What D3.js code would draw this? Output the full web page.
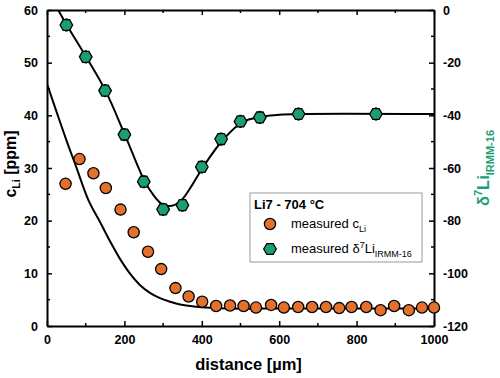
<!DOCTYPE html>
<html>
<head>
<meta charset="utf-8">
<script src="https://cdn.jsdelivr.net/npm/d3@7"></script>
<style>
  body { margin: 0; background: #fff; }
  svg { font-family: "Liberation Sans", Arial, sans-serif; font-weight: bold; }
  .axis text { font-size: 12.5px; font-weight: bold; }
  .axis path, .axis line { stroke: #000; }
</style>
</head>
<body>
<script>
// measured Li concentration [ppm]
var cDist = [48, 84, 120, 152, 190, 224, 261, 295, 332, 366, 401, 437, 473, 508, 540, 579, 612, 649, 685, 721, 755, 787, 825, 862, 897, 935, 969, 1000];
var cVal  = [27.0, 31.7, 29.0, 26.2, 22.1, 17.8, 14.1, 10.8, 7.2, 5.6, 4.6, 3.8, 3.9, 3.8, 3.5, 4.0, 3.5, 3.6, 3.6, 3.6, 3.4, 3.6, 3.6, 3.0, 3.8, 3.0, 3.5, 3.5];

// measured delta7Li [permil]
var dDist = [50, 100, 150, 200, 250, 300, 350, 400, 450, 500, 550, 650, 850];
var dVal  = [-5.7, -17.8, -30.6, -47.3, -65.2, -75.7, -74.1, -59.6, -49.0, -42.3, -40.8, -39.5, -39.5];
var dErr  = [2.5, 2.5, 2.5, 2.5, 2.5, 2.5, 2.5, 2.5, 2.5, 2.5, 2.5, 2.5, 2.5];

// model curves
var cModelX = [0, 25, 50, 75, 107, 138, 165, 189, 215, 240, 266, 292, 318, 344, 380, 421, 480, 560, 700, 1000];
var cModelY = [46, 40.6, 35.3, 30.3, 23.9, 19.6, 15.8, 12.7, 9.9, 7.8, 6.3, 5.3, 4.6, 4.1, 3.7, 3.45, 3.3, 3.3, 3.3, 3.3];
var dModelX = [29, 51, 101, 151, 201, 251, 275, 295, 313, 330, 348, 375, 404, 456, 507, 559, 600, 650, 1000];
var dModelY = [0, -5.7, -17.8, -30.6, -47.3, -64.6, -70.3, -73.5, -74.4, -74.0, -72.2, -66.5, -59.5, -49.1, -42.4, -40.5, -39.8, -39.5, -39.5];

var xTicks = [0, 200, 400, 600, 800, 1000];
var yLTicks = [0, 10, 20, 30, 40, 50, 60];
var yRTicks = [-120, -100, -80, -60, -40, -20, 0];

var green = "#1b9e77", orange = "#e3702c";

var margin = {top: 10, right: 66, bottom: 52, left: 47},
    width = 500 - margin.left - margin.right,
    height = 378 - margin.top - margin.bottom;

var x = d3.scaleLinear().domain([0, 1000]).range([0, width]);
var yL = d3.scaleLinear().domain([0, 60]).range([height, 0]);
var yR = d3.scaleLinear().domain([-120, 0]).range([height, 0]);

var fmt = function(d) { return String(d); };

var svg = d3.select("body").append("svg")
    .attr("width", 500)
    .attr("height", 378)
  .append("g")
    .attr("transform", "translate(" + margin.left + "," + margin.top + ")");

var defs = svg.append("defs");
defs.append("clipPath").attr("id", "clip")
  .append("rect").attr("width", width).attr("height", height);

// minor ticks
function minor(axisG, scale, vals, len, horiz, color) {
  axisG.selectAll(".minor").data(vals).enter().append("line")
    .attr("class", "minor")
    .attr("stroke", color || "#000")
    .attr("stroke-width", 1.5)
    .attr(horiz ? "x1" : "y1", function(d) { return scale(d); })
    .attr(horiz ? "x2" : "y2", function(d) { return scale(d); })
    .attr(horiz ? "y1" : "x1", 0)
    .attr(horiz ? "y2" : "x2", len);
}

// Bottom axis
var gx = svg.append("g").attr("class", "axis")
    .attr("transform", "translate(0," + height + ")")
    .call(d3.axisBottom(x).tickValues(xTicks).tickFormat(fmt).tickSizeInner(-5).tickSizeOuter(0).tickPadding(9));
gx.selectAll("line").attr("stroke-width", 1.5);
minor(gx, x, [100, 300, 500, 700, 900], -3, true);

// Top axis
var gt = svg.append("g").attr("class", "axis")
    .call(d3.axisTop(x).tickValues(xTicks).tickSizeInner(-5).tickSizeOuter(0).tickFormat(""));
gt.selectAll("line").attr("stroke-width", 1.5);
minor(gt, x, [100, 300, 500, 700, 900], 3, true);

// Left axis
var gl = svg.append("g").attr("class", "axis")
    .call(d3.axisLeft(yL).tickValues(yLTicks).tickFormat(fmt).tickSizeInner(-5).tickSizeOuter(0).tickPadding(9));
gl.selectAll("line").attr("stroke-width", 1.5);
minor(gl, yL, [5, 15, 25, 35, 45, 55], 3, false);

// Right axis
var gr = svg.append("g").attr("class", "axis")
    .attr("transform", "translate(" + width + ",0)")
    .call(d3.axisRight(yR).tickValues(yRTicks).tickFormat(fmt).tickSizeInner(-5).tickSizeOuter(0).tickPadding(9));
gr.selectAll("line").attr("stroke", green).attr("stroke-width", 1.5);
gr.select(".domain").attr("stroke", green).attr("stroke-width", 2);
minor(gr, yR, [-110, -90, -70, -50, -30, -10], -3, false, green);

gx.select(".domain").attr("stroke-width", 2);
gt.select(".domain").attr("stroke-width", 2);
gl.select(".domain").attr("stroke-width", 2);

var plot = svg.append("g").attr("clip-path", "url(#clip)");

// model curves
plot.append("path")
    .datum(d3.zip(cModelX, cModelY))
    .attr("fill", "none").attr("stroke", "#000").attr("stroke-width", 2)
    .attr("d", d3.line().curve(d3.curveCatmullRom)
        .x(function(d) { return x(d[0]); })
        .y(function(d) { return yL(d[1]); }));

plot.append("path")
    .datum(d3.zip(dModelX, dModelY))
    .attr("fill", "none").attr("stroke", "#000").attr("stroke-width", 2)
    .attr("d", d3.line().curve(d3.curveCatmullRom)
        .x(function(d) { return x(d[0]); })
        .y(function(d) { return yR(d[1]); }));

// delta points with error bars
var dPts = d3.zip(dDist, dVal, dErr);
svg.selectAll(".err").data(dPts).enter().append("line")
    .attr("stroke", "#000").attr("stroke-width", 2.5)
    .attr("x1", function(d) { return x(d[0]); })
    .attr("x2", function(d) { return x(d[0]); })
    .attr("y1", function(d) { return yR(d[1] - d[2]); })
    .attr("y2", function(d) { return yR(d[1] + d[2]); });

var hex = d3.range(6).map(function(i) {
  var a = Math.PI / 3 * i;
  return [6.3 * Math.cos(a), 6.3 * Math.sin(a)];
});
var hexPath = "M" + hex.join("L") + "Z";

svg.selectAll(".dpt").data(dPts).enter().append("path")
    .attr("d", hexPath)
    .attr("transform", function(d) { return "translate(" + x(d[0]) + "," + yR(d[1]) + ")"; })
    .attr("fill", green).attr("stroke", "#000").attr("stroke-width", 1.3);

// concentration points
svg.selectAll(".cpt").data(d3.zip(cDist, cVal)).enter().append("circle")
    .attr("cx", function(d) { return x(d[0]); })
    .attr("cy", function(d) { return yL(d[1]); })
    .attr("r", 5.6)
    .attr("fill", orange).attr("stroke", "#000").attr("stroke-width", 1.3);

// axis titles
svg.append("text")
    .attr("x", width / 2 + 8).attr("y", height + 44)
    .attr("text-anchor", "middle")
    .style("font-size", "16.5px")
    .text("distance [\u00b5m]");

var lt = svg.append("text")
    .attr("transform", "translate(" + (-31) + "," + (height / 2 - 4) + ") rotate(-90)")
    .attr("text-anchor", "middle")
    .style("font-size", "16px");
lt.append("tspan").text("c");
lt.append("tspan").attr("dy", 4).style("font-size", "10.5px").text("Li");
lt.append("tspan").attr("dy", -4).text(" [ppm]");

var rt = svg.append("text")
    .attr("transform", "translate(" + (width + 55) + "," + (height / 2) + ") rotate(-90)")
    .attr("text-anchor", "middle")
    .attr("fill", green)
    .style("font-size", "16.5px");
rt.append("tspan").text("\u03b4");
rt.append("tspan").attr("dy", -7).style("font-size", "11px").text("7");
rt.append("tspan").attr("dy", 7).text("Li");
rt.append("tspan").attr("dy", 5).style("font-size", "11px").text("IRMM-16");

// legend
var lg = svg.append("g").attr("transform", "translate(" + (250 - margin.left) + "," + (193 - margin.top) + ")");
lg.append("rect")
    .attr("width", 172).attr("height", 69)
    .attr("fill", "#fff").attr("stroke", "#999").attr("stroke-width", 1);
lg.append("text").attr("x", 4).attr("y", 16)
    .style("font-size", "13px").text("Li7 - 704 \u00b0C");
lg.append("circle").attr("cx", 20).attr("cy", 31).attr("r", 5.6)
    .attr("fill", orange).attr("stroke", "#000").attr("stroke-width", 1.3);
var l1 = lg.append("text").attr("x", 41).attr("y", 35)
    .style("font-size", "13px").style("font-weight", "normal");
l1.append("tspan").text("measured c");
l1.append("tspan").attr("dy", 4).style("font-size", "9px").text("Li");
lg.append("path").attr("d", hexPath)
    .attr("transform", "translate(20,56)")
    .attr("fill", green).attr("stroke", "#000").attr("stroke-width", 1.3);
var l2 = lg.append("text").attr("x", 41).attr("y", 60)
    .style("font-size", "13px").style("font-weight", "normal");
l2.append("tspan").text("measured \u03b4");
l2.append("tspan").attr("dy", -5).style("font-size", "9px").text("7");
l2.append("tspan").attr("dy", 5).text("Li");
l2.append("tspan").attr("dy", 4).style("font-size", "9px").text("IRMM-16");
</script>
</body>
</html>
